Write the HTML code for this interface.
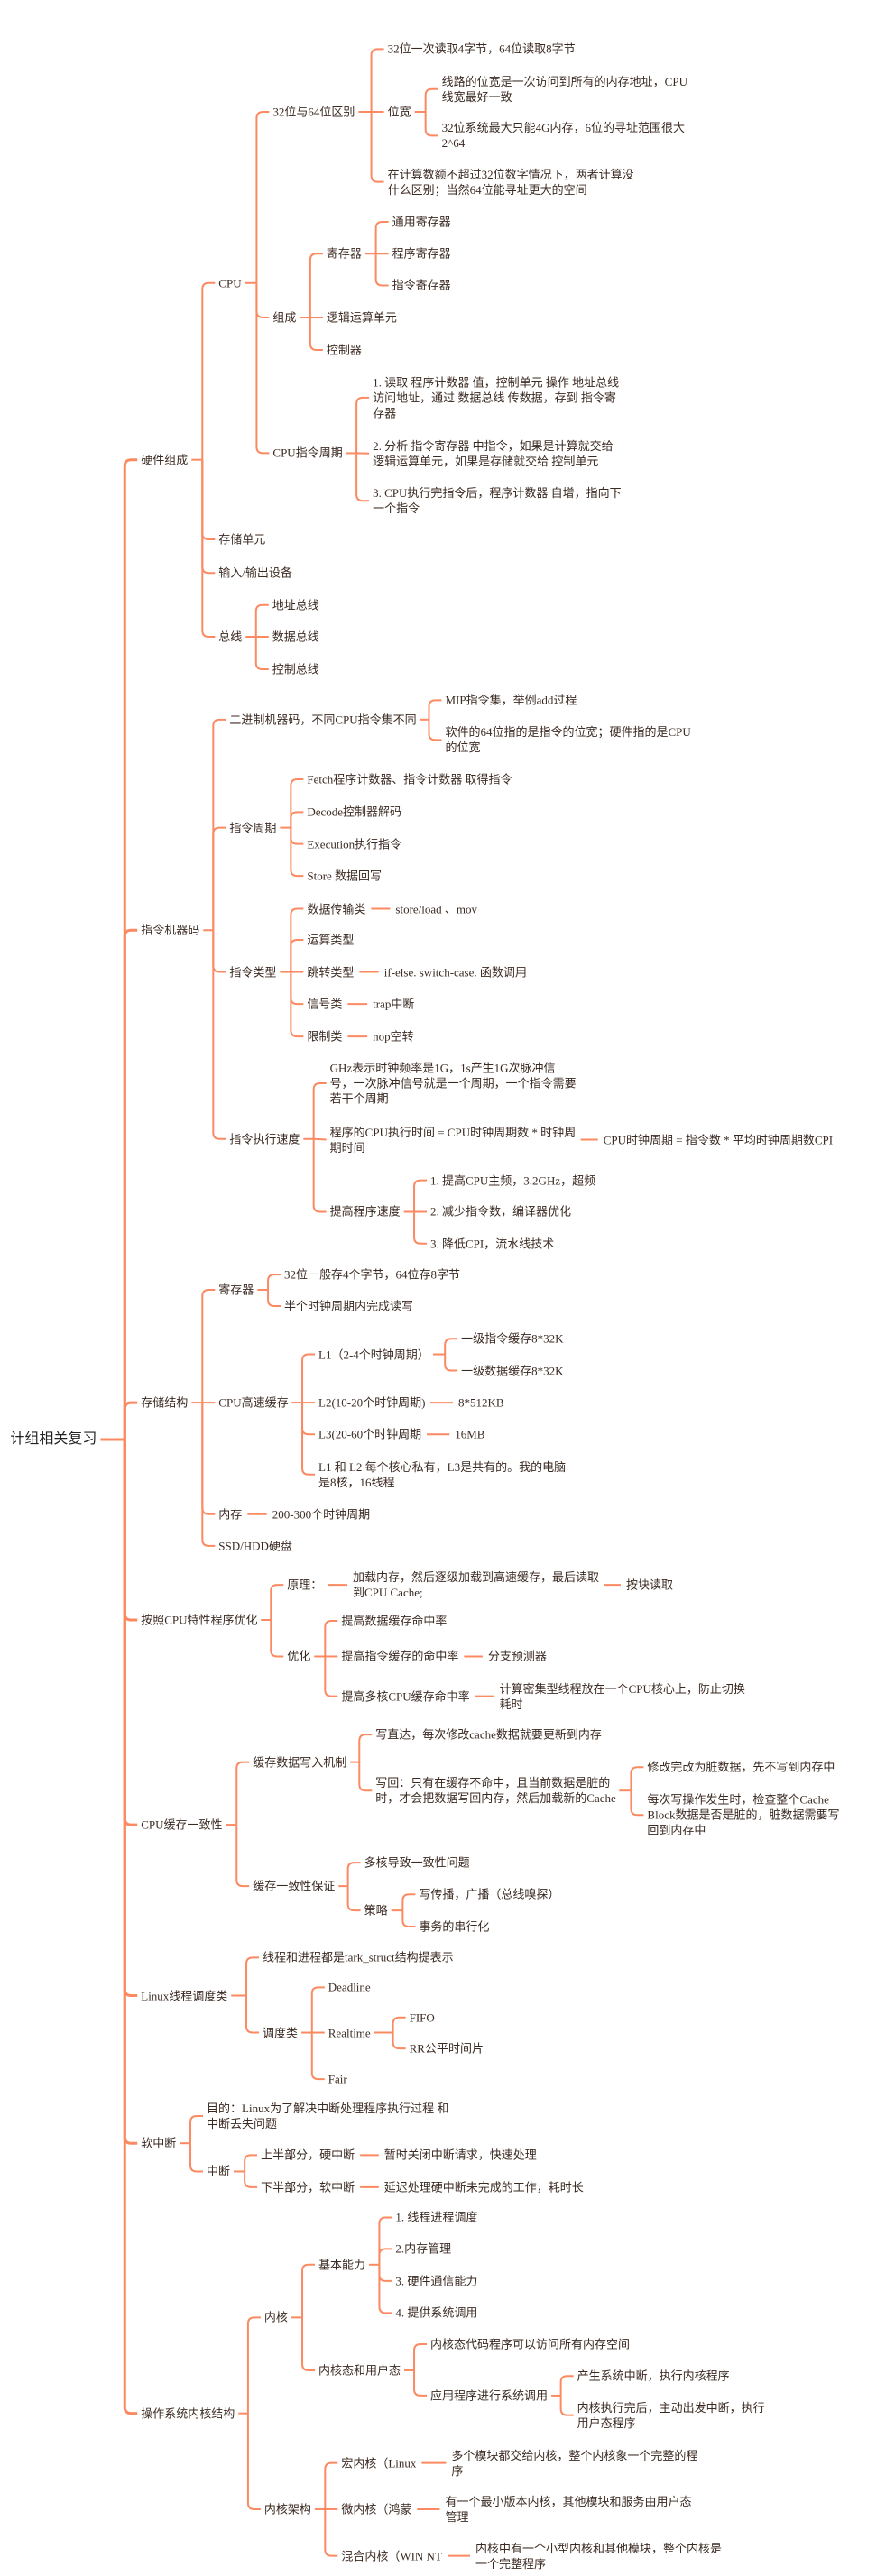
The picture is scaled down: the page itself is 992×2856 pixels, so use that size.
<!DOCTYPE html>
<html><head><meta charset="utf-8">
<style>
html,body{margin:0;padding:0;background:#fff;}
body{width:992px;height:2856px;position:relative;overflow:hidden;font-family:"Liberation Serif","Noto Sans CJK SC",serif;color:#3b2a22;}
.n{position:absolute;font-size:13px;line-height:17px;white-space:nowrap;transform:translateY(-50%);}
.root{font-size:16px;line-height:20px;color:#222;}
svg{position:absolute;left:0;top:0;}
</style></head><body>
<svg id="s" width="992" height="2856"></svg>
<div id="c"></div>
<script>
var SX=992/1568;
var Z={1:[0,600/1568],2:[600,600/1568],3:[1200,600/1568],4:[1800,550/1568],5:[2340,516/1568],0:[0,1]};
function N(t,zx,zy,z,k,cls){return {t:t,x:zx*SX,y:Z[z][0]+zy*Z[z][1],k:k||[],cls:cls};}
function R(t,x,y,k){return {t:t,x:x*SX,y:y,k:k||[]};}
var tree=N("计组相关复习",18,1035,3,[
 N("硬件组成",247,1332,1,[
  N("CPU",383,820,1,[
   N("32位与64位区别",478,324,1,[
    N("32位一次读取4字节，64位读取8字节",679,142,1),
    N("位宽",679,324,1,[
     N("线路的位宽是一次访问到所有的内存地址，CPU<br>线宽最好一致",774,258,1),
     N("32位系统最大只能4G内存，6位的寻址范围很大<br>2^64",774,393,1)]),
    N("在计算数额不超过32位数字情况下，两者计算没<br>什么区别；当然64位能寻址更大的空间",679,527,1)]),
   N("组成",478,920,1,[
    N("寄存器",572,735,1,[
     N("通用寄存器",687,643,1),N("程序寄存器",687,735,1),N("指令寄存器",687,827,1)]),
    N("逻辑运算单元",572,920,1),
    N("控制器",572,1014,1)]),
   N("CPU指令周期",478,1313,1,[
    N("1. 读取 程序计数器 值，控制单元 操作 地址总线<br>访问地址，通过 数据总线 传数据，存到 指令寄<br>存器",653,1152,1),
    N("2. 分析 指令寄存器 中指令，如果是计算就交给<br>逻辑运算单元，如果是存储就交给 控制单元",653,1314,1),
    N("3. CPU执行完指令后，程序计数器 自增，指向下<br>一个指令",653,1451,1)])]),
  R("存储单元",383,598),
  N("输入/输出设备",383,92,2),
  N("总线",383,277,2,[
   N("地址总线",477,185,2),N("数据总线",477,277,2),N("控制总线",477,371,2)])]),
 N("指令机器码",247,1127,2,[
  N("二进制机器码，不同CPU指令集不同",402,517,2,[
   N("MIP指令集，举例add过程",780,461,2),
   N("软件的64位指的是指令的位宽；硬件指的是CPU<br>的位宽",780,576,2)]),
  N("指令周期",402,830,2,[
   N("Fetch程序计数器、指令计数器 取得指令",538,690,2),
   N("Decode控制器解码",538,785,2),
   N("Execution执行指令",538,877,2),
   N("Store 数据回写",538,970,2)]),
  N("指令类型",402,1248,2,[
   N("数据传输类",538,1065,2,[N("store/load 、mov",693,1065,2)]),
   N("运算类型",538,1155,2),
   N("跳转类型",538,1248,2,[N("if-else. switch-case. 函数调用",673,1248,2)]),
   N("信号类",538,1341,2,[N("trap中断",653,1341,2)]),
   N("限制类",538,1435,2,[N("nop空转",653,1435,2)])]),
  N("指令执行速度",402,164,3,[
   R("GHz表示时钟频率是1G，1s产生1G次脉冲信<br>号，一次脉冲信号就是一个周期，一个指令需要<br>若干个周期",578,1201),
   N("程序的CPU执行时间 = CPU时钟周期数 * 时钟周<br>期时间",578,166,3,[N("CPU时钟周期 = 指令数 * 平均时钟周期数CPI",1057,166,3)]),
   N("提高程序速度",578,375,3,[
    N("1. 提高CPU主频，3.2GHz，超频",754,284,3),
    N("2. 减少指令数，编译器优化",754,375,3),
    N("3. 降低CPI，流水线技术",754,467,3)])])]),
 N("存储结构",247,928,3,[
  N("寄存器",383,601,3,[
   N("32位一般存4个字节，64位存8字节",498,557,3),
   N("半个时钟周期内完成读写",498,648,3)]),
  N("CPU高速缓存",383,928,3,[
   N("L1（2-4个时钟周期）",558,788,3,[
    N("一级指令缓存8*32K",808,743,3),N("一级数据缓存8*32K",808,835,3)]),
   N("L2(10-20个时钟周期)",558,928,3,[N("8*512KB",803,928,3)]),
   N("L3(20-60个时钟周期",558,1020,3,[N("16MB",797,1020,3)]),
   N("L1 和 L2 每个核心私有，L3是共有的。我的电脑<br>是8核，16线程",558,1136,3)]),
  N("内存",383,1251,3,[N("200-300个时钟周期",477,1251,3)]),
  N("SSD/HDD硬盘",383,1343,3)]),
 R("按照CPU特性程序优化",247,1796,[
  N("原理：",503,1456,3,[
   N("加载内存，然后逐级加载到高速缓存，最后读取<br>到CPU Cache;",618,1456,3,[N("按块读取",1097,1456,3)])]),
  N("优化",503,104,4,[
   R("提高数据缓存命中率",598,1797),
   N("提高指令缓存的命中率",598,104,4,[N("分支预测器",855,104,4)]),
   N("提高多核CPU缓存命中率",598,230,4,[N("计算密集型线程放在一个CPU核心上，防止切换<br>耗时",875,232,4)])])]),
 N("CPU缓存一致性",247,636,4,[
  N("缓存数据写入机制",443,438,4,[
   N("写直达，每次修改cache数据就要更新到内存",658,351,4),
   N("写回：只有在缓存不命中，且当前数据是脏的<br>时，才会把数据写回内存，然后加载新的Cache",658,528,4,[
    N("修改完改为脏数据，先不写到内存中",1134,454,4),
    N("每次写操作发生时，检查整个Cache<br>Block数据是否是脏的，脏数据需要写<br>回到内存中",1134,605,4)])]),
  N("缓存一致性保证",443,830,4,[
   N("多核导致一致性问题",638,756,4),
   N("策略",638,907,4,[
    N("写传播，广播（总线嗅探）",734,856,4),
    N("事务的串行化",734,958,4)])])]),
 N("Linux线程调度类",247,1176,4,[
  N("线程和进程都是tark_struct结构提表示",460,1056,4),
  N("调度类",460,1293,4,[
   N("Deadline",575,1150,4),
   N("Realtime",575,1293,4,[N("FIFO",717,1245,4),N("RR公平时间片",717,1343,4)]),
   N("Fair",575,1440,4)])]),
 N("软中断",247,110,5,[
  R("目的：Linux为了解决中断处理程序执行过程 和<br>中断丢失问题",362,2346),
  N("中断",362,205,5,[
   N("上半部分，硬中断",457,150,5,[N("暂时关闭中断请求，快速处理",673,150,5)]),
   N("下半部分，软中断",457,258,5,[N("延迟处理硬中断未完成的工作，耗时长",673,258,5)])])]),
 N("操作系统内核结构",247,1020,5,[
  N("内核",463,697,5,[
   N("基本能力",558,519,5,[
    N("1. 线程进程调度",693,360,5),N("2.内存管理",693,466,5),
    N("3. 硬件通信能力",693,574,5),N("4. 提供系统调用",693,682,5)]),
   N("内核态和用户态",558,875,5,[
    N("内核态代码程序可以访问所有内存空间",754,787,5),
    N("应用程序进行系统调用",754,960,5,[
     N("产生系统中断，执行内核程序",1011,894,5),
     N("内核执行完后，主动出发中断，执行<br>用户态程序",1011,1026,5)])])]),
  N("内核架构",463,1343,5,[
   N("宏内核（Linux",598,1187,5,[N("多个模块都交给内核，整个内核象一个完整的程<br>序",791,1187,5)]),
   N("微内核（鸿蒙",598,1343,5,[N("有一个最小版本内核，其他模块和服务由用户态<br>管理",780,1343,5)]),
   N("混合内核（WIN NT",598,1500,5,[N("内核中有一个小型内核和其他模块，整个内核是<br>一个完整程序",833,1502,5)])])])]);
tree.root=true;
var C=document.getElementById('c'),S=document.getElementById('s'),P='';
var COL='#fb8a62';
function place(n){var d=document.createElement('div');d.className='n'+(n.root?' root':'');d.innerHTML=n.t;d.style.left=n.x+'px';d.style.top=n.y+'px';C.appendChild(d);n.w=d.offsetWidth;n.k.forEach(place);}
place(tree);
function draw(n){
 if(!n.k.length)return;
 var sw=n.root?3:2,r=7,px=n.x+n.w,py=n.y;
 if(n.k.length==1&&Math.abs(n.k[0].y-py)<4){
  var c=n.k[0];P+='<path d="M'+(px+6)+','+py+'L'+(c.x-6)+','+py+'" stroke="'+COL+'" stroke-width="'+sw+'" fill="none"/>';
 } else {
  var mx=Math.min.apply(null,n.k.map(function(c){return c.x;}));
  var sx=mx-18;
  P+='<path d="M'+(px+4)+','+py+'L'+sx+','+py+'" stroke="'+COL+'" stroke-width="'+sw+'" fill="none"/>';
  n.k.forEach(function(c){
   var cy=c.y,d;
   if(Math.abs(cy-py)<r){d='M'+sx+','+py+'L'+(c.x-4)+','+cy;}
   else{var s=cy>py?1:-1;d='M'+sx+','+py+'L'+sx+','+(cy-s*r)+'Q'+sx+','+cy+' '+(sx+r)+','+cy+'L'+(c.x-4)+','+cy;}
   P+='<path d="'+d+'" stroke="'+COL+'" stroke-width="'+sw+'" fill="none"/>';
  });
 }
 n.k.forEach(draw);
}
draw(tree);
S.innerHTML=P;
</script>
</body></html>
